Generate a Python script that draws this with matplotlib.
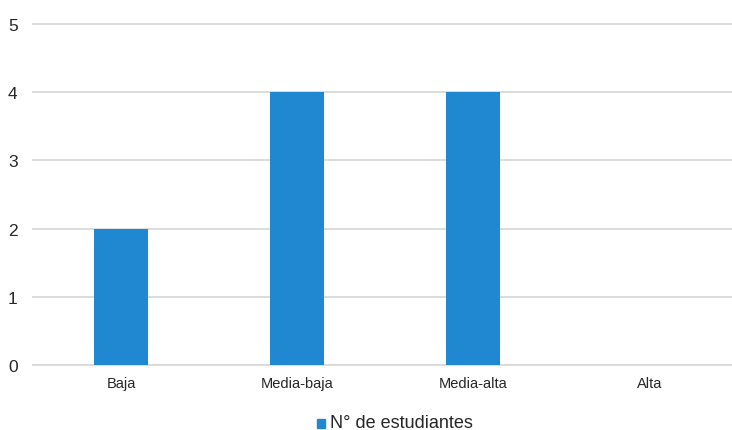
import matplotlib
matplotlib.use("Agg")
import matplotlib.pyplot as plt
from matplotlib.patches import Rectangle

plt.rcParams["font.family"] = ["Liberation Sans", "DejaVu Sans"]

categories = ["Baja", "Media-baja", "Media-alta", "Alta"]
students = [2, 4, 4, 0]
y_ticks = [0, 1, 2, 3, 4, 5]

BLUE = "#1f88d0"
GRID = "#d9d9d9"
INK = "#262626"

fig = plt.figure(figsize=(7.32, 4.31), dpi=100)
ax = fig.add_axes([33 / 732, 65 / 431, 1 - 33 / 732, 341 / 431])

x = range(len(categories))
ax.bar(x, students, width=0.31, color=BLUE, zorder=3)

ax.set_xlim(-0.5, 3.47)
ax.set_ylim(0, 5)
ax.set_yticks(y_ticks)
ax.set_xticks(list(x))
ax.set_xticklabels(categories, fontsize=10.5, color=INK)
ax.tick_params(axis="y", labelsize=12.5, colors=INK, length=0, pad=11)
ax.tick_params(axis="x", length=0, pad=8)
ax.grid(axis="y", color=GRID, linewidth=1.3, zorder=0, clip_on=False)
for s in ax.spines.values():
    s.set_visible(False)
ax.axhline(0, color=GRID, linewidth=1.3, zorder=2)

# legend entry below the axis
fig.patches.append(Rectangle((317 / 732, (431 - 429) / 431), 8 / 732, 9 / 431,
                             transform=fig.transFigure, color=BLUE))
fig.text(330 / 732, (431 - 424) / 431, "N° de estudiantes", fontsize=13,
         color=INK, ha="left", va="center")

fig.savefig("out.png", dpi=100, facecolor="white")
